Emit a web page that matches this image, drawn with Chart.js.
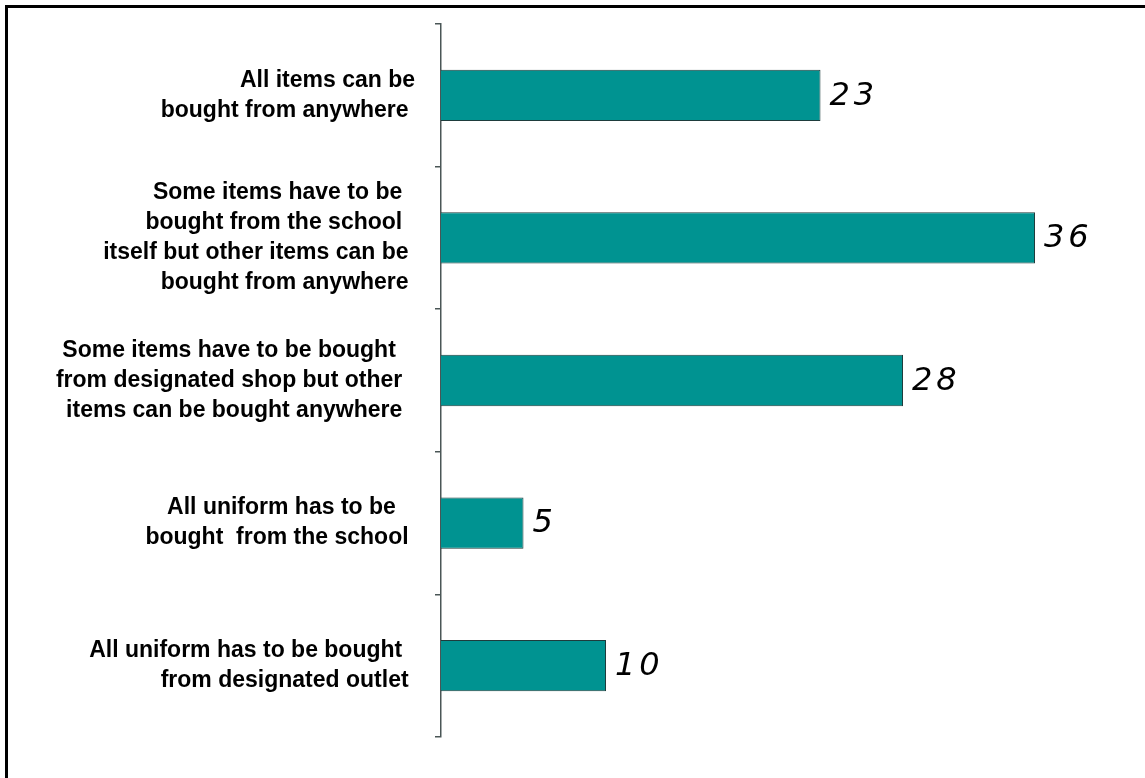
<!DOCTYPE html>
<html>
<head>
<meta charset="utf-8">
<script src="https://cdn.jsdelivr.net/npm/chart.js@4.4.1/dist/chart.umd.min.js"></script>
<style>
  html, body { margin: 0; padding: 0; background: #fff; }
  #wrap { position: absolute; left: 0; top: 0; width: 1145px; height: 778px; }
</style>
</head>
<body>
<div id="wrap"><canvas id="chart" width="1145" height="778"></canvas></div>
<script>
// Where pupils have to buy their school uniform (%)
// trailing spaces are kept: the labels are right-aligned with them
const categories = [
  ["All items can be", "bought from anywhere "],
  ["Some items have to be  ", "bought from the school  ", "itself but other items can be ", "bought from anywhere "],
  ["Some items have to be bought   ", "from designated shop but other  ", "items can be bought anywhere  "],
  ["All uniform has to be   ", "bought  from the school "],
  ["All uniform has to be bought  ", "from designated outlet "],
];
const values = [23, 36, 28, 5, 10];

const barColor = "#009391";
const axisColor = "#4a5656";

// Outer frame (top and left edges only are in view)
const framePlugin = {
  id: "frame",
  beforeDraw(chart) {
    const { ctx } = chart;
    ctx.save();
    ctx.fillStyle = "#fff";
    ctx.fillRect(0, 0, chart.width, chart.height);
    ctx.fillStyle = "#000";
    ctx.fillRect(5, 5, chart.width - 5, 3);
    ctx.fillRect(5, 5, 3, chart.height - 5);
    ctx.restore();
  },
};

// Italic spaced numbers at the end of each bar
const valueLabels = {
  id: "valueLabels",
  afterDatasetsDraw(chart) {
    const { ctx } = chart;
    const meta = chart.getDatasetMeta(0);
    ctx.save();
    ctx.fillStyle = "#000";
    ctx.font = "italic 32px 'DejaVu Sans'";
    ctx.textBaseline = "middle";
    meta.data.forEach((bar, i) => {
      const text = String(values[i]);
      let x = bar.x + 9;
      for (const ch of text) {
        ctx.fillText(ch, x, bar.y + 1);
        x += ctx.measureText(ch).width + 4;
      }
    });
    ctx.restore();
  },
};

new Chart(document.getElementById("chart"), {
  type: "bar",
  data: {
    labels: categories,
    datasets: [
      {
        data: values,
        backgroundColor: barColor,
        borderColor: "#1e3c3c",
        borderWidth: 1,
        borderSkipped: "left",
        barPercentage: 0.36,
        categoryPercentage: 1,
      },
    ],
  },
  options: {
    indexAxis: "y",
    responsive: false,
    animation: false,
    events: [],
    layout: { padding: { top: 24, bottom: 41, left: 0, right: 44 } },
    plugins: {
      legend: { display: false },
      tooltip: { enabled: false },
    },
    scales: {
      x: {
        display: false,
        min: 0,
        max: 40,
      },
      y: {
        afterFit(scale) {
          scale.width = 441;
          // labels may overhang the plot; keep the plot where it is
          scale.paddingTop = 0;
          scale.paddingBottom = 0;
        },
        border: { display: true, color: axisColor, width: 1.5 },
        grid: {
          offset: true,
          drawOnChartArea: false,
          tickLength: 6,
          color: axisColor,
          lineWidth: 1.5,
        },
        ticks: {
          color: "#000",
          padding: 20,
          font: { family: "'Liberation Sans', Arial", size: 23, weight: "bold", lineHeight: 1.3 },
        },
      },
    },
  },
  plugins: [framePlugin, valueLabels],
});
</script>
</body>
</html>
